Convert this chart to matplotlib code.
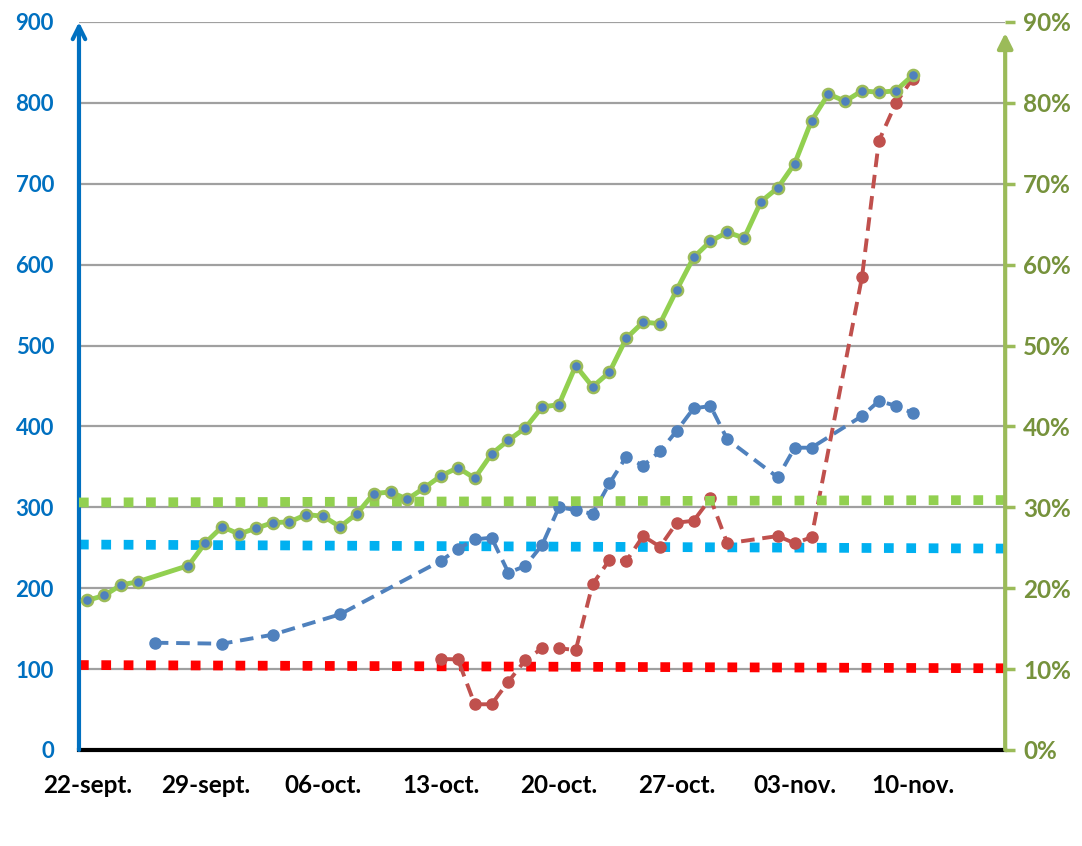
import numpy as np
import pandas as pd
import matplotlib
matplotlib.use("Agg")
import matplotlib.pyplot as plt

# --- data ---
green_dates = ["09-22", "09-23", "09-24", "09-25"] + \
    [d.strftime("%m-%d") for d in pd.date_range("2020-09-28", "2020-11-10")]
green_pct = [18.5, 19.1, 20.4, 20.8, 22.8, 25.6, 27.6, 26.7, 27.4, 28.1, 28.2, 29.1,
             28.9, 27.6, 29.2, 31.7, 31.9, 31.0, 32.4, 33.9, 34.9, 33.6, 36.6, 38.3,
             39.8, 42.4, 42.7, 47.5, 44.9, 46.7, 50.9, 52.9, 52.7, 56.9, 60.9, 62.9,
             64.0, 63.3, 67.8, 69.5, 72.5, 77.8, 81.1, 80.2, 81.5, 81.3, 81.5, 83.4]

blue_dates = ["09-26", "09-30", "10-03", "10-07", "10-13", "10-14", "10-15", "10-16",
              "10-17", "10-18", "10-19", "10-20", "10-21", "10-22", "10-23", "10-24",
              "10-25", "10-26", "10-27", "10-28", "10-29", "10-30", "11-02", "11-03",
              "11-04", "11-07", "11-08", "11-09", "11-10"]
blue_vals = [132.6, 131.4, 142.5, 167.7, 234, 248.5, 260.4, 262.4, 219.2, 227.4, 253.4,
             300, 296.7, 291.7, 329.6, 362.6, 351.4, 369.2, 394.7, 422.4, 425.2, 384,
             337, 373.7, 373.7, 412.9, 431.4, 425.6, 416.6]

red_dates = ["10-13", "10-14", "10-15", "10-16", "10-17", "10-18", "10-19", "10-20",
             "10-21", "10-22", "10-23", "10-24", "10-25", "10-26", "10-27", "10-28",
             "10-29", "10-30", "11-02", "11-03", "11-04", "11-07", "11-08", "11-09",
             "11-10"]
red_vals = [112.5, 112, 56.5, 56.5, 84.5, 111, 125.7, 125.7, 123.6, 205, 234.8, 233.6,
            264.5, 251.3, 281, 283.4, 311, 255.5, 264.5, 255.5, 263, 585, 753, 799.4, 830]

# reference (threshold) lines: start / end values
ref_dates = ["09-21 12:00", "11-15 12:00"]
ref_green_pct = [30.6, 30.9]
ref_blue = [254, 249]
ref_red = [105, 101]

tick_dates = ["09-22", "09-29", "10-06", "10-13", "10-20", "10-27", "11-03", "11-10"]
tick_labels = ["22-sept.", "29-sept.", "06-oct.", "13-oct.", "20-oct.", "27-oct.",
               "03-nov.", "10-nov."]


def to_dt(lst):
    return pd.to_datetime(["2020-" + s for s in lst])


plt.rcParams['font.family'] = ['Lato', 'DejaVu Sans']

fig = plt.figure(figsize=(10.82, 8.46), dpi=100)
ax = fig.add_axes([0.073, 0.1135, 0.856, 0.8605])
ax2 = ax.twinx()

ax.set_ylim(0, 900)
ax2.set_ylim(0, 90)
ax.set_xlim(to_dt(ref_dates)[0], to_dt(ref_dates)[1])

ax.set_yticks(np.arange(0, 901, 100))
ax.grid(axis='y', color='#A0A0A0', lw=1.6)
ax.set_axisbelow(True)

dot_kw = dict(lw=7, dashes=(1, 1.3), solid_capstyle='butt', dash_capstyle='butt')
ax2.plot(to_dt(ref_dates), ref_green_pct, color='#92D050', **dot_kw)
ax.plot(to_dt(ref_dates), ref_blue, color='#00B0F0', **dot_kw)
ax.plot(to_dt(ref_dates), ref_red, color='#FF0000', **dot_kw)

ax.plot(to_dt(blue_dates), blue_vals, color='#4F81BD', lw=2.8, dashes=(3.5, 2),
        marker='o', ms=8)
ax.plot(to_dt(red_dates), red_vals, color='#C0504D', lw=2.8, dashes=(3.5, 2),
        marker='o', ms=8)
ax2.plot(to_dt(green_dates), green_pct, color='#92D050', lw=3.5, marker='o', ms=8,
         mfc='#4F81BD', mec='#9BBB59', mew=1.8)

# axes styling
for s in ['top', 'left', 'right']:
    ax.spines[s].set_visible(False)
    ax2.spines[s].set_visible(False)
ax.spines['bottom'].set_color('black')
ax.spines['bottom'].set_linewidth(3)
ax2.spines['bottom'].set_visible(False)

ax.set_xticks(to_dt(tick_dates))
ax.set_xticklabels(tick_labels, fontsize=17.5, fontweight='bold', color='black')
ax.tick_params(axis='x', length=0, pad=17)
ax.tick_params(axis='y', length=0, pad=18, labelsize=16, labelcolor='#0070C0')
for t in ax.get_yticklabels():
    t.set_fontweight('bold')

ax2.set_yticks(np.arange(0, 91, 10))
ax2.set_yticklabels([f"{v}%" for v in range(0, 91, 10)])
ax2.tick_params(axis='y', direction='out', length=7, width=2.5, color='#9BBB59',
                pad=6, labelsize=17.5, labelcolor='#76923C')
for t in ax2.get_yticklabels():
    t.set_fontweight('bold')

ax.annotate('', xy=(0, 1), xytext=(0, 0), xycoords='axes fraction',
            arrowprops=dict(arrowstyle='->,head_length=0.9,head_width=0.45',
                            color='#0070C0', lw=3, shrinkA=0, shrinkB=0))
ax2.annotate('', xy=(1, 0.985), xytext=(1, 0), xycoords='axes fraction',
             arrowprops=dict(arrowstyle='-|>,head_length=0.9,head_width=0.45',
                             color='#9BBB59', lw=3, shrinkA=0, shrinkB=0))

fig.savefig("out.png", dpi=100)
